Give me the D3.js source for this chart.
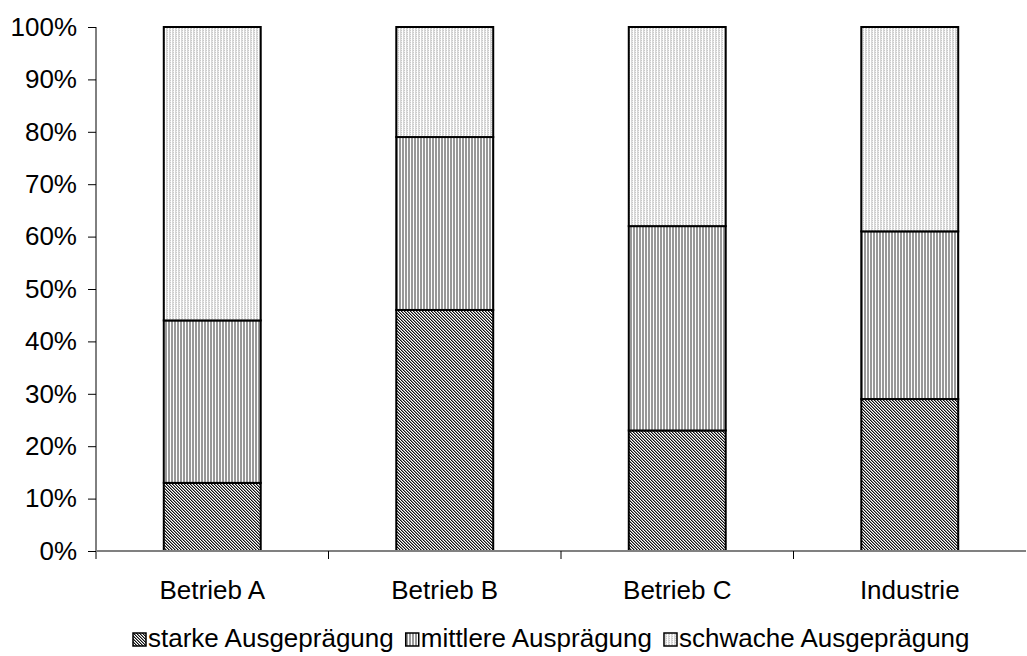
<!DOCTYPE html>
<html>
<head>
<meta charset="utf-8">
<script src="https://cdn.jsdelivr.net/npm/d3@7"></script>
<style>
  html, body { margin: 0; padding: 0; background: #fff; }
  svg { display: block; font-family: "Liberation Sans", Arial, sans-serif; }
</style>
</head>
<body>
<svg id="chart" width="1027" height="656"></svg>
<script>
// Kategorien und Anteile (in %) der drei Ausprägungen
const categories = ["Betrieb A", "Betrieb B", "Betrieb C", "Industrie"];
const seriesNames = ["starke Ausgeprägung", "mittlere Ausprägung", "schwache Ausgeprägung"];
const starke   = [13, 46, 23, 29];
const mittlere = [31, 33, 39, 32];
const schwache = [56, 21, 38, 39];
const yTicks = [0, 10, 20, 30, 40, 50, 60, 70, 80, 90, 100];
const yTickLabels = ["0%", "10%", "20%", "30%", "40%", "50%", "60%", "70%", "80%", "90%", "100%"];

const svg = d3.select("#chart");
const margin = { left: 96, right: 1, top: 27, bottom: 105 };
const W = 1027, H = 656;
const fontSize = 26;

// Füllmuster: fein diagonal schraffiert, vertikal gestreift, hell gestreift
const defs = svg.append("defs");
function pixelPattern(id, w, h, cellFn) {
  const p = defs.append("pattern")
    .attr("id", id).attr("patternUnits", "userSpaceOnUse")
    .attr("width", w).attr("height", h);
  p.append("rect").attr("width", w).attr("height", h).attr("fill", "#fff");
  for (let y = 0; y < h; y++) {
    for (let x = 0; x < w; x++) {
      const c = cellFn(x, y);
      if (c) p.append("rect").attr("x", x).attr("y", y).attr("width", 1).attr("height", 1)
        .attr("fill", c).attr("shape-rendering", "crispEdges");
    }
  }
}
pixelPattern("pat0", 3, 3, (x, y) => {
  const k = ((x - y) % 3 + 3) % 3;
  return k === 0 ? "#111111" : (k === 1 ? "#8c8c8c" : null);
});
pixelPattern("pat1", 3, 1, (x) => x < 2 ? "#999999" : null);
pixelPattern("pat2", 3, 2, (x, y) => x === 1 ? "#d6d6d6" : (x === 2 ? (y === 0 ? "#c8c8c8" : "#ececec") : null));

const x = d3.scaleBand()
  .domain(categories)
  .range([margin.left, W - margin.right])
  .paddingInner(0.583)
  .paddingOuter(0.2915);

const y = d3.scaleLinear().domain([0, 100]).range([H - margin.bottom, margin.top]);

// Stapel aufbauen
const rows = categories.map((c, i) => ({ cat: c, s0: starke[i], s1: mittlere[i], s2: schwache[i] }));
const stack = d3.stack().keys(["s0", "s1", "s2"])(rows);

stack.forEach((layer, li) => {
  svg.append("g").selectAll("rect").data(layer).join("rect")
    .attr("x", d => x(d.data.cat))
    .attr("y", d => y(d[1]))
    .attr("width", x.bandwidth())
    .attr("height", d => y(d[0]) - y(d[1]))
    .attr("fill", `url(#pat${li})`)
    .attr("stroke", "#000")
    .attr("stroke-width", 2);
});

// y-Achse
const yAxis = svg.append("g")
  .attr("transform", `translate(${margin.left},0)`)
  .call(d3.axisLeft(y).tickValues(yTicks).tickSize(8).tickPadding(11)
    .tickFormat((d, i) => yTickLabels[i]));
yAxis.select(".domain").attr("stroke", "#000").attr("stroke-width", 1)
  .attr("d", `M0,${y(100)}V${y(0) + 8}`);
yAxis.selectAll(".tick line").attr("stroke", "#000");
yAxis.selectAll(".tick text").attr("font-size", fontSize).attr("fill", "#000")
  .attr("font-family", "Liberation Sans, Arial, sans-serif");

// x-Achse
const y0 = y(0);
svg.append("line")
  .attr("x1", margin.left).attr("x2", W - margin.right)
  .attr("y1", y0).attr("y2", y0)
  .attr("stroke", "#808080").attr("stroke-width", 2);

const step = x.step();
const bounds = d3.range(1, categories.length).map(i => margin.left + i * step);
svg.append("g").selectAll("line").data(bounds).join("line")
  .attr("x1", d => d).attr("x2", d => d)
  .attr("y1", y0).attr("y2", y0 + 8)
  .attr("stroke", "#000").attr("stroke-width", 1);

svg.append("g").selectAll("text").data(categories).join("text")
  .attr("x", d => x(d) + x.bandwidth() / 2)
  .attr("y", y0 + 48)
  .attr("text-anchor", "middle")
  .attr("font-size", fontSize)
  .attr("fill", "#000")
  .text(d => d);

// Legende
const legend = svg.append("g").attr("transform", "translate(133,0)");
const legendBaseline = 647;
let lx = 0;
seriesNames.forEach((name, i) => {
  const g = legend.append("g");
  g.append("rect")
    .attr("x", lx).attr("y", legendBaseline - 14)
    .attr("width", 13).attr("height", 13)
    .attr("fill", `url(#pat${i})`)
    .attr("stroke", "#000").attr("stroke-width", 1.5);
  const t = g.append("text")
    .attr("x", lx + 15).attr("y", legendBaseline)
    .attr("font-size", fontSize).attr("fill", "#000")
    .text(name);
  lx += 15 + t.node().getComputedTextLength() + 12;
});
</script>
</body>
</html>
